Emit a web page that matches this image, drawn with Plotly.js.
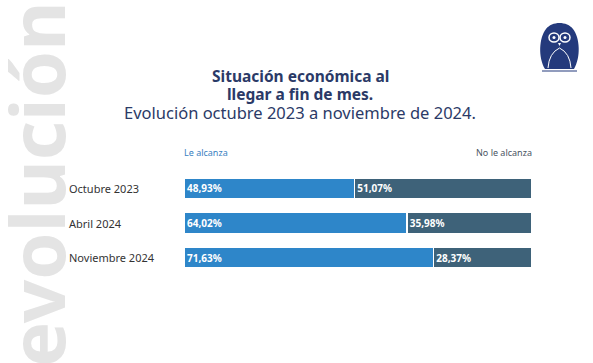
<!DOCTYPE html>
<html><head><meta charset="utf-8">
<script src="https://cdn.plot.ly/plotly-3.0.1.min.js"></script>
<style>html,body{margin:0;padding:0;background:#fff}#c{width:593px;height:363px}</style>
</head><body><div id="c"></div>
<script>
const categories = ["Octubre 2023", "Abril 2024", "Noviembre 2024"];
const leAlcanza = [48.93, 64.02, 71.63];
const noLeAlcanza = [51.07, 35.98, 28.37];
const seriesNames = ["Le alcanza", "No le alcanza"];

const fmt = v => v.toFixed(2).replace('.', ',') + '%';
const FONT = "Noto Sans, Open Sans, sans-serif";
const blue = "#2e86c9", dark = "#3e6279";

const base = {
  type: 'bar', orientation: 'h', y: categories, width: 0.61,
  textposition: 'inside', insidetextanchor: 'start', cliponaxis: false,
  textfont: {color: '#fff', size: 10, family: FONT, weight: 'bold'},
  hoverinfo: 'none', showlegend: false
};
const traces = [
  Object.assign({}, base, {name: seriesNames[0], x: leAlcanza, text: leAlcanza.map(fmt),
    marker: {color: blue, line: {color: '#fff', width: 1.5}}}),
  Object.assign({}, base, {name: seriesNames[1], x: noLeAlcanza, text: noLeAlcanza.map(fmt),
    marker: {color: dark, line: {color: '#fff', width: 1.5}}})
];

const L = 184, R = 532, T = 171, B = 275;
const px = x => (x - L) / (R - L);
const py = y => (B - y) / (B - T);

const ann = [];
const A = (o) => ann.push(Object.assign({xref: 'paper', yref: 'paper', showarrow: false,
  xanchor: 'center', yanchor: 'middle', borderpad: 0}, o));
categories.forEach(c => A({x: px(68), y: c, yref: 'y', text: c, xanchor: 'left',
  font: {size: 11, color: '#333', family: FONT}}));
A({x: px(183), y: py(152), text: seriesNames[0], xanchor: 'left',
  font: {size: 9, color: '#3a7fbf', family: FONT}});
A({x: px(533), y: py(152), text: seriesNames[1], xanchor: 'right',
  font: {size: 9, color: '#4a5563', family: FONT}});
A({x: px(300), y: py(76.5), text: "Situación económica al",
  font: {size: 15.5, color: '#2b3a67', family: FONT, weight: 'bold'}});
A({x: px(300), y: py(93.5), text: "llegar a fin de mes.",
  font: {size: 15.5, color: '#2b3a67', family: FONT, weight: 'bold'}});
A({x: px(300), y: py(112), text: "Evolución octubre 2023 a noviembre de 2024.",
  font: {size: 16.5, color: '#2b3a67', family: FONT}});
A({x: px(35), y: py(184), text: "evolución", textangle: -90,
  font: {size: 76, color: '#e4e4e4', family: FONT, weight: 'bold'}});

const navy = '#243a7c';
const shapes = [
  {type: 'path', xref: 'paper', yref: 'paper', fillcolor: navy, line: {width: 0},
   path: `M ${px(545)} ${py(69)} L ${px(574)} ${py(69)} C ${px(581)} ${py(57)} ${px(580)} ${py(38)} ${px(573)} ${py(29)} C ${px(567)} ${py(21)} ${px(552)} ${py(21)} ${px(546)} ${py(29)} C ${px(539)} ${py(38)} ${px(538)} ${py(57)} ${px(545)} ${py(69)} Z`},
  {type: 'circle', xref: 'paper', yref: 'paper', fillcolor: navy, line: {color: '#fff', width: 1.5},
   x0: px(549), x1: px(559), y0: py(42), y1: py(33)},
  {type: 'circle', xref: 'paper', yref: 'paper', fillcolor: navy, line: {color: '#fff', width: 1.5},
   x0: px(560), x1: px(570), y0: py(42), y1: py(33)},
  {type: 'circle', xref: 'paper', yref: 'paper', fillcolor: '#fff', line: {width: 0},
   x0: px(552.5), x1: px(555.5), y0: py(39), y1: py(36)},
  {type: 'circle', xref: 'paper', yref: 'paper', fillcolor: '#fff', line: {width: 0},
   x0: px(563.5), x1: px(566.5), y0: py(39), y1: py(36)},
  {type: 'path', xref: 'paper', yref: 'paper', fillcolor: '#fff', line: {width: 0},
   path: `M ${px(558)} ${py(43)} L ${px(561)} ${py(43)} L ${px(559.5)} ${py(46)} Z`},
  {type: 'path', xref: 'paper', yref: 'paper', line: {color: '#fff', width: 1},
   path: `M ${px(548)} ${py(68)} Q ${px(549)} ${py(53)} ${px(559.5)} ${py(48)} Q ${px(570)} ${py(53)} ${px(571)} ${py(68)}`},
  {type: 'line', xref: 'paper', yref: 'paper', line: {color: navy, width: 1.2},
   x0: px(542), x1: px(577), y0: py(71), y1: py(71)}
];

Plotly.newPlot('c', traces, {
  width: 593, height: 363, barmode: 'stack',
  margin: {l: L, r: 593 - R, t: T, b: 363 - B},
  paper_bgcolor: '#fff', plot_bgcolor: '#fff',
  xaxis: {range: [0, 100], visible: false, fixedrange: true},
  yaxis: {autorange: 'reversed', visible: false, fixedrange: true},
  annotations: ann, shapes: shapes,
  font: {family: FONT}
}, {staticPlot: true, displayModeBar: false});
</script></body></html>
